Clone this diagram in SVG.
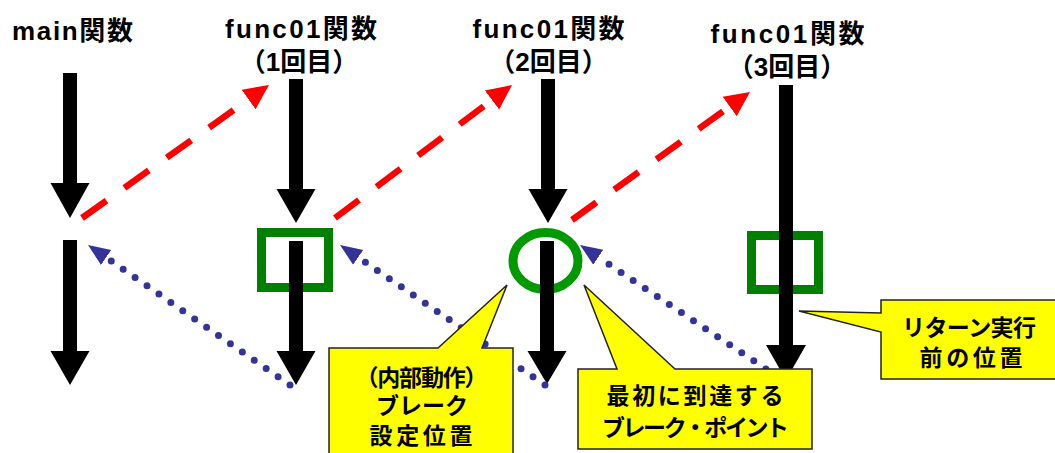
<svg xmlns="http://www.w3.org/2000/svg" width="1055" height="453" viewBox="0 0 1055 453">
<style>
  text { font-family: 'Liberation Sans', 'Noto Sans CJK JP', sans-serif; font-weight: bold; fill: #000; }
  .hd { font-size: 26px; }
  .co { font-size: 23px; text-anchor: middle; }
  .mid { text-anchor: middle; }
  .flow { fill: #000; stroke: none; }
  .call { stroke: red; stroke-width: 6.5; stroke-dasharray: 30 22; fill: none; }
  .ret { stroke: #333399; stroke-width: 7; stroke-linecap: round; stroke-dasharray: 0 14.5; fill: none; }
  .bp { fill: none; stroke: #008000; stroke-width: 9; }
  .bpc { fill: none; stroke: #009a00; stroke-width: 9; }
  .bal { fill: #ffff00; stroke: #222; stroke-width: 1.5; }
</style>
<defs>
  <marker id="redHead" markerUnits="userSpaceOnUse" markerWidth="30" markerHeight="30" refX="0" refY="12" orient="auto" viewBox="0 0 30 24">
    <path d="M0,0 L25,12 L0,24 Z" fill="red"/>
  </marker>
  <marker id="blueHead" markerUnits="userSpaceOnUse" markerWidth="26" markerHeight="22" refX="0" refY="9" orient="auto" viewBox="0 0 26 18">
    <path d="M0,0 L22,9 L0,18 Z" fill="#333399"/>
  </marker>
</defs>

<g id="header-main"><text class="hd" x="12" y="40" textLength="121" lengthAdjust="spacing">main関数</text></g>
<g id="header-f1">
  <text class="hd mid" x="301" y="38" textLength="152" lengthAdjust="spacing">func01関数</text>
  <text class="hd mid" x="299" y="71" font-size="25">（1回目）</text>
</g>
<g id="header-f2">
  <text class="hd mid" x="548.5" y="38" textLength="152" lengthAdjust="spacing">func01関数</text>
  <text class="hd mid" x="548.5" y="71" font-size="25">（2回目）</text>
</g>
<g id="header-f3">
  <text class="hd mid" x="787.5" y="43" textLength="154" lengthAdjust="spacing">func01関数</text>
  <text class="hd mid" x="787" y="76" font-size="25">（3回目）</text>
</g>

<g id="bp-square-1"><rect class="bp" x="261.5" y="232.5" width="67" height="55"/></g>
<g id="bp-circle-2"><ellipse class="bpc" cx="545.5" cy="261" rx="32.5" ry="28.5"/></g>
<g id="bp-square-3"><rect class="bp" x="751.5" y="235.5" width="67" height="54"/></g>

<g id="flow-main">
  <path class="flow" d="M63,73 H77 V183 H89.5 L70,218 L50.5,183 H63 Z"/>
  <path class="flow" d="M63,240 H77 V351 H89.5 L70,385 L50.5,351 H63 Z"/>
</g>
<g id="flow-f1">
  <path class="flow" d="M289,79 H303 V189 H315.5 L296,223 L276.5,189 H289 Z"/>
  <path class="flow" d="M289,241 H303 V351 H315.5 L296,385 L276.5,351 H289 Z"/>
</g>
<g id="flow-f2">
  <path class="flow" d="M541,79 H555 V189 H567.5 L548,223 L528.5,189 H541 Z"/>
  <path class="flow" d="M540,241 H554 V351 H566.5 L547,384 L527.5,351 H540 Z"/>
</g>
<g id="flow-f3">
  <path class="flow" d="M779,85 H793 V345 H806 L786,380 L766,345 H779 Z"/>
</g>

<g id="connectors">
  <line class="call" x1="82" y1="218" x2="248.6" y2="99.5" marker-end="url(#redHead)"/>
  <line class="call" x1="335" y1="218" x2="492" y2="100" marker-end="url(#redHead)"/>
  <line class="call" x1="572" y1="220" x2="729.7" y2="106.6" marker-end="url(#redHead)"/>
  <line class="ret" x1="290" y1="385" x2="106.1" y2="257.5" marker-end="url(#blueHead)"/>
  <line class="ret" x1="545" y1="385" x2="358.2" y2="257.4" marker-end="url(#blueHead)"/>
  <line class="ret" x1="790" y1="385" x2="598.3" y2="257.2" marker-end="url(#blueHead)"/>
</g>

<g id="callout-internal">
  <path class="bal" d="M329,348 H438 L507,285 L482,348 H513 V462 H329 Z"/>
  <text class="co" x="421.5" y="386" textLength="132" lengthAdjust="spacing">（内部動作）</text>
  <text class="co" x="422" y="414" textLength="92" lengthAdjust="spacing">ブレーク</text>
  <text class="co" x="421" y="444" textLength="103" lengthAdjust="spacing">設定位置</text>
</g>
<g id="callout-first">
  <path class="bal" d="M578,369 H617 L584,285 L675,369 H812 V449 H578 Z"/>
  <text class="co" x="695" y="404" textLength="177" lengthAdjust="spacing">最初に到達する</text>
  <text class="co" x="695.5" y="436" textLength="187" lengthAdjust="spacing">ブレーク・ポイント</text>
</g>
<g id="callout-return">
  <path class="bal" d="M881,300 H1060 V379 H881 V332 L799,311 L881,313 Z"/>
  <text class="co" x="969" y="336" textLength="134" lengthAdjust="spacing">リターン実行</text>
  <text class="co" x="971" y="366" textLength="103" lengthAdjust="spacing">前の位置</text>
</g>
</svg>
